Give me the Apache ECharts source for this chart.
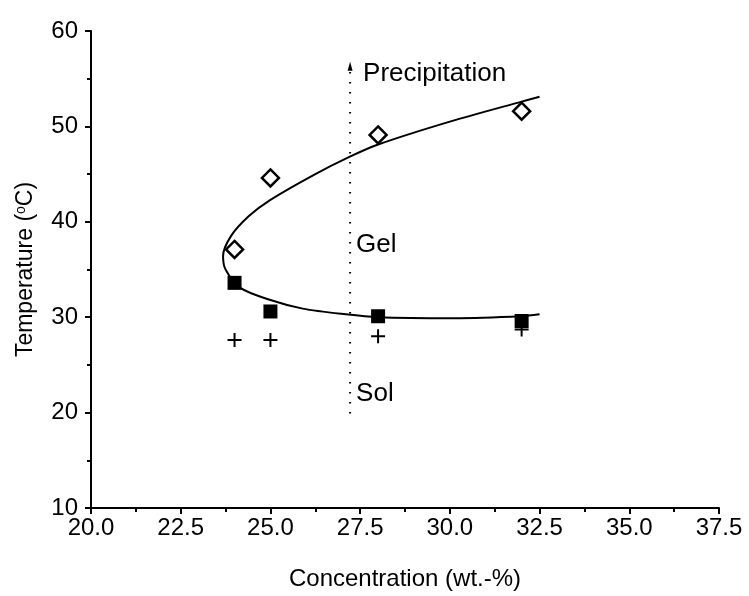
<!DOCTYPE html>
<html>
<head>
<meta charset="utf-8">
<script src="https://cdn.jsdelivr.net/npm/echarts@6/dist/echarts.min.js"></script>
<style>
  html, body { margin: 0; padding: 0; background: #fff; }
  #chart { width: 749px; height: 596px; }
</style>
</head>
<body>
<div id="chart"></div>
<script>
// measured points (concentration wt.-%, temperature °C)
const gelToPrecip = [[24.0, 37.1], [25.0, 44.6], [28.0, 49.1], [32.0, 51.6]];
const solToGel = [[24.0, 33.6], [25.0, 30.6], [28.0, 30.1], [32.0, 29.6]];
const plusPoints = [[24.0, 27.6], [25.0, 27.6], [28.0, 28.0], [32.0, 28.7]];

// fitted boundary
const fitCurve = [
  [32.5, 53.1], [32.0, 52.6], [30.0, 50.5], [28.0, 48.1], [27.2, 46.8],
  [26.2, 44.9], [25.0, 42.3], [24.4, 40.6], [23.9, 38.5], [23.68, 36.4],
  [23.75, 35.0], [24.15, 33.1], [25.0, 31.8], [25.9, 30.9], [27.1, 30.3],
  [28.0, 30.0], [30.1, 29.9], [32.0, 30.1], [32.5, 30.3]
];

// dotted divider with arrow
const dividerLine = [[27.22, 19.9], [27.22, 56.3]];
const regionLabels = [
  { name: 'Precipitation', value: [27.22, 55.5], dx: 13 },
  { name: 'Gel', value: [27.22, 37.6], dx: 6 },
  { name: 'Sol', value: [27.22, 22.0], dx: 6 }
];

const xTicks = { min: 20, max: 37.5, interval: 2.5 };
const yTicks = { min: 10, max: 60, interval: 10 };

const font = 'Liberation Sans, Arial, sans-serif';
const chart = echarts.init(document.getElementById('chart'));

chart.setOption({
  animation: false,
  backgroundColor: '#fff',
  grid: { left: 91, right: 30, top: 31, bottom: 87 },
  xAxis: {
    type: 'value',
    min: xTicks.min, max: xTicks.max, interval: xTicks.interval,
    name: 'Concentration (wt.-%)',
    nameLocation: 'middle',
    nameGap: 59,
    nameTextStyle: { color: '#000', fontSize: 24, fontFamily: font },
    axisLine: { lineStyle: { color: '#000', width: 2 } },
    axisTick: { show: true, length: 6, lineStyle: { color: '#000', width: 2 } },
    minorTick: { show: true, splitNumber: 2, length: 4, lineStyle: { color: '#000', width: 2 } },
    splitLine: { show: false },
    axisLabel: { color: '#000', fontSize: 24, fontFamily: font, margin: 8, formatter: v => v.toFixed(1) }
  },
  yAxis: {
    type: 'value',
    min: yTicks.min, max: yTicks.max, interval: yTicks.interval,
    name: 'Temperature ({sup|o}C)',
    nameLocation: 'middle',
    nameGap: 53,
    nameTextStyle: {
      color: '#000', fontSize: 23, fontFamily: font,
      rich: { sup: { fontSize: 14, verticalAlign: 'top', padding: [0, 0, 10, 0], fontFamily: font, color: '#000' } }
    },
    axisLine: { lineStyle: { color: '#000', width: 2 } },
    axisTick: { show: true, length: 6, lineStyle: { color: '#000', width: 2 } },
    minorTick: { show: true, splitNumber: 2, length: 4, lineStyle: { color: '#000', width: 2 } },
    splitLine: { show: false },
    axisLabel: { color: '#000', fontSize: 24, fontFamily: font, margin: 13 }
  },
  series: [
    {
      type: 'line',
      data: fitCurve,
      smooth: 0.3,
      symbol: 'none',
      lineStyle: { color: '#000', width: 2 },
      z: 2
    },
    {
      type: 'line',
      data: dividerLine,
      symbol: 'none',
      lineStyle: { color: '#000', width: 2, type: [1.5, 8.5] },
      z: 1
    },
    {
      type: 'scatter',
      data: [dividerLine[1]],
      symbol: 'triangle',
      symbolSize: [5, 9],
      itemStyle: { color: '#000', opacity: 1 },
      z: 1
    },
    {
      type: 'scatter',
      data: gelToPrecip,
      symbol: 'diamond',
      symbolSize: 17,
      itemStyle: { color: '#fff', borderColor: '#000', borderWidth: 2.5, opacity: 1 },
      z: 4
    },
    {
      type: 'scatter',
      data: solToGel,
      symbol: 'rect',
      symbolSize: 14,
      itemStyle: { color: '#000', opacity: 1 },
      z: 4
    },
    {
      type: 'scatter',
      data: plusPoints,
      symbol: 'path://M6,0H8V6H14V8H8V14H6V8H0V6H6Z',
      symbolSize: 14,
      itemStyle: { color: '#000', opacity: 1 },
      z: 3
    },
    {
      type: 'scatter',
      data: regionLabels.map(d => ({
        name: d.name, value: d.value,
        label: { offset: [d.dx, 0] }
      })),
      symbolSize: 0,
      itemStyle: { opacity: 1 },
      label: {
        show: true, position: 'right', distance: 0,
        formatter: p => p.name,
        color: '#000', fontSize: 26, fontFamily: font
      },
      z: 5
    }
  ]
});
</script>
</body>
</html>
